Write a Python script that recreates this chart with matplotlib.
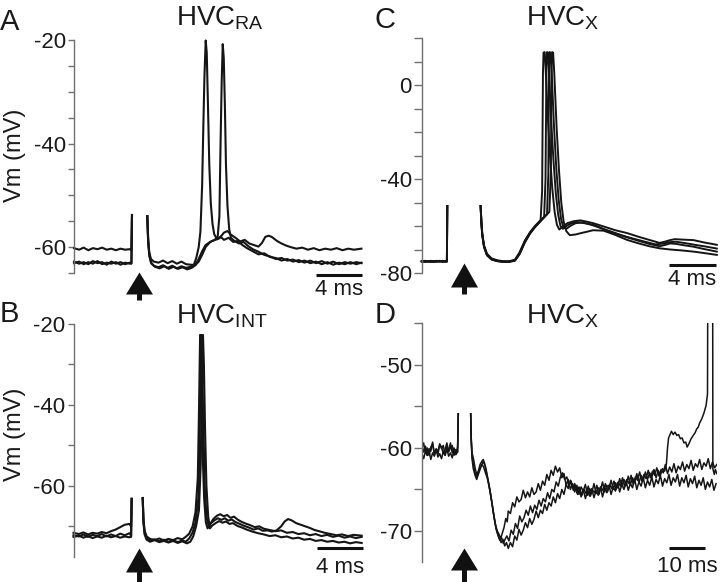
import numpy as np
import matplotlib.pyplot as plt
from matplotlib.transforms import blended_transform_factory

plt.rcParams['font.family'] = ['Liberation Sans', 'DejaVu Sans']
plt.rcParams['mathtext.fontset'] = 'custom'
plt.rcParams['mathtext.rm'] = 'Liberation Sans'
plt.rcParams['axes.unicode_minus'] = False

nan = np.nan

# ---- Panel A: HVC_RA, time (ms) from stimulus, Vm (mV)
A1 = [(-5.04, -60.2), (-4.6, -60.5), (-4.2, -60.1), (-3.8, -60.6), (-3.4, -60.2), (-3.0, -60.4), (-2.6, -60.1),
      (-2.2, -60.5), (-1.8, -60.3), (-1.4, -60.6), (-1.0, -60.3), (-0.6, -60.5), (-0.2, -60.4), (-0.05, -60.6),
      (0.0, -53.8), (0.05, nan),
      (1.33, -54.0), (1.4, -58.5), (1.5, -61.0), (1.65, -62.3), (1.9, -62.8), (2.3, -63.0), (2.7, -62.6), (3.1, -63.1),
      (3.5, -62.7), (3.9, -63.2), (4.3, -62.8), (4.7, -63.3), (5.1, -63.4), (5.5, -63.5), (5.8, -62.8), (6.1, -61.5),
      (6.4, -60.0), (6.8, -59.0), (7.2, -58.6), (7.6, -58.3), (8.0, -57.2), (8.3, -56.9), (8.6, -57.6), (9.0, -58.2),
      (9.4, -58.9), (9.8, -58.6), (10.2, -59.3), (10.6, -59.6), (11.0, -59.9), (11.3, -59.2), (11.6, -58.0),
      (11.9, -57.8), (12.2, -58.1), (12.6, -58.8), (13.0, -59.3), (13.4, -59.7), (13.8, -60.0), (14.3, -60.3),
      (14.8, -60.1), (15.3, -60.5), (15.8, -60.2), (16.3, -60.6), (16.8, -60.3), (17.3, -60.5), (17.8, -60.2),
      (18.3, -60.6), (18.8, -60.3), (19.3, -60.5), (19.95, -60.3)]
A2 = [(-5.04, -62.8), (-4.6, -63.2), (-4.2, -62.9), (-3.8, -63.3), (-3.4, -62.7), (-3.0, -63.1), (-2.6, -62.9),
      (-2.2, -63.4), (-1.8, -62.8), (-1.4, -63.2), (-1.0, -62.9), (-0.6, -63.3), (-0.2, -63.0), (-0.05, -63.2),
      (0.0, -53.8), (0.05, nan),
      (1.33, -54.0), (1.4, -58.8), (1.5, -61.5), (1.65, -63.0), (1.9, -63.6), (2.3, -63.9), (2.7, -63.5), (3.1, -64.0),
      (3.5, -63.6), (3.9, -64.1), (4.3, -63.7), (4.7, -64.0), (5.1, -63.8), (5.4, -63.3), (5.6, -62.0), (5.8, -60.0),
      (5.95, -57.0), (6.1, -48.0), (6.2, -37.0), (6.3, -27.0), (6.41, -20.1), (6.5, -22.5), (6.6, -32.0),
      (6.72, -44.0), (6.85, -51.5), (7.0, -55.5), (7.15, -57.5), (7.4, -58.5), (7.7, -58.0), (8.0, -58.6),
      (8.4, -58.2), (8.8, -59.0), (9.2, -58.8), (9.6, -59.6), (10.0, -60.2), (10.5, -60.8), (11.0, -61.4),
      (11.5, -61.2), (12.0, -61.9), (12.5, -62.1), (13.0, -62.6), (13.5, -62.3), (14.0, -62.8), (14.5, -62.5),
      (15.0, -63.0), (15.5, -62.6), (16.0, -63.1), (16.5, -62.7), (17.0, -63.2), (17.5, -62.8), (18.0, -63.3),
      (18.5, -62.9), (19.0, -63.2), (19.5, -62.9), (19.95, -63.1)]
A3 = [(-5.04, -63.1), (-4.6, -62.8), (-4.2, -63.3), (-3.8, -62.9), (-3.4, -63.2), (-3.0, -62.7), (-2.6, -63.3),
      (-2.2, -63.0), (-1.8, -63.2), (-1.4, -62.9), (-1.0, -63.4), (-0.6, -63.0), (-0.2, -63.2), (-0.05, -63.1),
      (0.0, -53.8), (0.05, nan),
      (1.33, -54.0), (1.42, -59.0), (1.52, -61.8), (1.7, -63.2), (2.0, -63.8), (2.4, -64.1), (2.8, -63.7),
      (3.2, -64.2), (3.6, -63.8), (4.0, -64.2), (4.4, -63.9), (4.8, -64.3), (5.2, -64.0), (5.5, -63.5), (5.8, -62.3),
      (6.1, -60.8), (6.4, -59.6), (6.8, -59.0), (7.2, -58.6), (7.45, -58.0), (7.6, -54.0), (7.7, -40.0),
      (7.8, -28.0), (7.89, -20.8), (7.98, -23.5), (8.08, -33.0), (8.17, -44.0), (8.3, -52.0), (8.45, -56.5),
      (8.6, -58.2), (8.9, -58.8), (9.3, -59.3), (9.7, -59.0), (10.1, -59.8), (10.5, -60.4), (11.0, -60.9),
      (11.5, -61.5), (12.0, -61.8), (12.5, -62.3), (13.0, -62.1), (13.5, -62.6), (14.0, -62.4), (14.5, -62.9),
      (15.0, -62.6), (15.5, -63.1), (16.0, -62.8), (16.5, -63.3), (17.0, -62.9), (17.5, -63.4), (18.0, -63.0),
      (18.5, -63.3), (19.0, -62.9), (19.5, -63.3), (19.95, -63.0)]

# ---- Panel B: HVC_INT
B1 = [(-5.06, -71.6), (-4.6, -71.9), (-4.2, -71.5), (-3.8, -72.0), (-3.4, -71.6), (-3.0, -71.8), (-2.6, -71.4),
      (-2.2, -71.7), (-1.8, -71.2), (-1.4, -70.8), (-1.0, -70.2), (-0.6, -69.6), (-0.2, -69.4), (-0.05, -70.0),
      (0.0, -63.2), (0.05, nan),
      (0.96, -63.0), (1.02, -68.0), (1.12, -71.0), (1.3, -72.5), (1.6, -73.1), (2.0, -73.4), (2.4, -73.0),
      (2.8, -73.5), (3.2, -73.1), (3.6, -73.4), (4.0, -72.9), (4.4, -73.2), (4.7, -72.6), (5.0, -71.8), (5.3, -70.0),
      (5.55, -66.5), (5.75, -58.0), (5.85, -42.0), (5.95, -22.7), (6.05, -32.0), (6.15, -50.0), (6.3, -63.0),
      (6.45, -69.0), (6.6, -70.5), (6.8, -69.5), (7.1, -68.2), (7.4, -67.4), (7.7, -67.0), (8.0, -67.5),
      (8.3, -67.2), (8.6, -67.9), (8.9, -67.6), (9.2, -68.3), (9.5, -68.8), (9.9, -69.3), (10.3, -69.7),
      (10.7, -70.2), (11.1, -70.0), (11.5, -70.6), (12.0, -70.9), (12.5, -71.2), (13.0, -71.0), (13.5, -71.6),
      (14.0, -71.4), (14.5, -71.9), (15.0, -71.7), (15.5, -72.2), (16.0, -71.9), (16.5, -72.4), (17.0, -72.1),
      (17.5, -72.6), (18.0, -72.3), (18.5, -72.8), (19.0, -72.5), (19.5, -72.9), (20.0, -72.6)]
B2 = [(-5.06, -72.2), (-4.6, -72.5), (-4.2, -72.0), (-3.8, -72.6), (-3.4, -72.1), (-3.0, -72.4), (-2.6, -71.9),
      (-2.2, -72.5), (-1.8, -72.0), (-1.4, -72.4), (-1.0, -71.8), (-0.6, -72.2), (-0.2, -71.7), (-0.05, -72.3),
      (0.0, -63.2), (0.05, nan),
      (0.96, -63.0), (1.02, -68.5), (1.12, -71.5), (1.3, -72.9), (1.6, -73.5), (2.0, -73.2), (2.4, -73.7),
      (2.8, -73.3), (3.2, -73.8), (3.6, -73.4), (4.0, -73.9), (4.4, -73.5), (4.7, -73.8), (5.0, -73.0), (5.3, -71.5),
      (5.55, -69.0), (5.8, -63.0), (5.9, -50.0), (5.98, -35.0), (6.05, -22.7), (6.13, -30.0), (6.23, -45.0),
      (6.35, -60.0), (6.5, -67.5), (6.7, -70.0), (6.9, -69.2), (7.2, -68.5), (7.5, -68.0), (7.8, -68.4),
      (8.1, -68.0), (8.4, -68.6), (8.7, -68.3), (9.0, -68.9), (9.4, -69.4), (9.8, -69.9), (10.2, -70.3),
      (10.6, -70.8), (11.0, -70.5), (11.4, -71.1), (11.8, -71.0), (12.2, -71.3), (12.6, -71.0), (13.0, -70.0),
      (13.3, -68.8), (13.6, -68.2), (13.9, -68.5), (14.3, -69.2), (14.7, -69.6), (15.1, -70.0), (15.5, -70.4),
      (15.9, -70.9), (16.3, -71.2), (16.8, -71.6), (17.3, -71.9), (17.8, -72.2), (18.3, -72.0), (18.8, -72.4),
      (19.3, -72.1), (20.0, -72.3)]
B3 = [(-5.06, -72.6), (-4.6, -72.3), (-4.2, -72.8), (-3.8, -72.4), (-3.4, -72.9), (-3.0, -72.5), (-2.6, -72.8),
      (-2.2, -72.3), (-1.8, -72.7), (-1.4, -72.4), (-1.0, -72.8), (-0.6, -72.5), (-0.2, -72.7), (-0.05, -72.6),
      (0.0, -63.2), (0.05, nan),
      (0.96, -63.0), (1.02, -69.0), (1.12, -72.0), (1.3, -73.3), (1.6, -73.8), (2.0, -73.4), (2.4, -73.9),
      (2.8, -73.6), (3.2, -74.0), (3.6, -73.6), (4.0, -74.1), (4.4, -73.7), (4.8, -74.2), (5.1, -73.8),
      (5.35, -72.5), (5.6, -70.0), (5.85, -66.0), (6.0, -55.0), (6.1, -38.0), (6.2, -22.7), (6.28, -30.0),
      (6.38, -46.0), (6.5, -60.0), (6.65, -67.5), (6.8, -70.5), (7.0, -69.8), (7.3, -69.2), (7.6, -68.7),
      (7.9, -69.1), (8.2, -68.8), (8.5, -69.4), (8.8, -69.2), (9.2, -69.9), (9.6, -70.3), (10.0, -70.8),
      (10.5, -71.3), (11.0, -71.7), (11.5, -72.0), (12.0, -72.4), (12.5, -72.2), (13.0, -72.7), (13.5, -72.5),
      (14.0, -73.0), (14.5, -72.8), (15.0, -73.3), (15.5, -73.1), (16.0, -73.6), (16.5, -73.4), (17.0, -73.8),
      (17.5, -73.6), (18.0, -74.0), (18.5, -73.8), (19.0, -74.2), (19.5, -73.9), (20.0, -74.1)]

# ---- Panel C: HVC_X
C1 = [(-2.19, -75.1), (-1.9, -74.8), (-1.65, -75.2), (-1.4, -74.9), (-1.15, -75.2), (-0.9, -74.8), (-0.65, -75.1),
      (-0.4, -74.9), (-0.15, -75.2), (-0.03, -75.0), (0.0, -51.5), (0.05, nan),
      (2.86, -51.5), (2.92, -58.0), (3.0, -63.5), (3.15, -68.5), (3.4, -72.0), (3.8, -74.0), (4.3, -74.8),
      (4.8, -75.1), (5.3, -75.2), (5.8, -74.6), (6.2, -71.8), (6.65, -66.8), (7.1, -63.0), (7.5, -60.5),
      (7.9, -58.4), (8.0, -57.5), (8.13, -45.0), (8.2, 5.0), (8.25, 13.8), (8.35, 14.0), (8.42, 8.0),
      (8.6, -12.0), (8.8, -30.0), (9.0, -44.0), (9.2, -54.0), (9.4, -59.5), (9.6, -61.5), (9.9, -60.2),
      (10.3, -58.8), (10.8, -58.0), (11.4, -57.6), (12.0, -58.2), (12.5, -58.8), (13.4, -60.2), (14.4, -61.8),
      (15.4, -63.0), (16.4, -64.6), (17.3, -65.9), (18.2, -67.2), (18.7, -66.6), (19.1, -66.0), (19.5, -65.6),
      (20.2, -65.8), (21.1, -66.0), (22.0, -67.0), (23.1, -68.0)]
C2 = [(-2.19, -74.9), (-1.9, -75.2), (-1.65, -74.9), (-1.4, -75.3), (-1.15, -74.9), (-0.9, -75.1), (-0.65, -74.8),
      (-0.4, -75.2), (-0.15, -74.9), (-0.03, -75.1), (0.0, -51.5), (0.05, nan),
      (2.86, -51.5), (2.92, -58.2), (3.0, -63.8), (3.15, -68.8), (3.4, -72.3), (3.8, -74.2), (4.3, -74.9),
      (4.8, -75.2), (5.3, -75.1), (5.8, -74.5), (6.2, -71.5), (6.65, -66.5), (7.1, -62.8), (7.5, -60.3),
      (7.9, -58.2), (8.3, -56.2), (8.42, -40.0), (8.5, 8.0), (8.55, 14.0), (8.63, 13.8), (8.72, 5.0),
      (8.9, -15.0), (9.1, -32.0), (9.3, -46.0), (9.5, -55.0), (9.7, -60.0), (9.9, -61.2), (10.2, -60.0),
      (10.6, -58.9), (11.1, -58.3), (11.9, -58.9), (12.7, -59.8), (13.4, -61.3), (14.4, -63.0), (15.4, -64.8),
      (16.4, -66.3), (17.3, -67.6), (18.2, -68.6), (18.7, -68.0), (19.1, -67.4), (19.6, -67.6), (20.3, -68.2),
      (21.1, -68.8), (22.0, -69.8), (23.1, -70.9)]
C3 = [(-2.19, -75.0), (-1.9, -75.3), (-1.65, -75.0), (-1.4, -74.8), (-1.15, -75.3), (-0.9, -75.0), (-0.65, -75.2),
      (-0.4, -74.8), (-0.15, -75.1), (-0.03, -74.9), (0.0, -51.5), (0.05, nan),
      (2.86, -51.5), (2.92, -57.8), (3.0, -63.2), (3.15, -68.2), (3.4, -71.8), (3.8, -73.8), (4.3, -74.6),
      (4.8, -75.0), (5.3, -75.0), (5.8, -74.4), (6.2, -71.2), (6.65, -66.2), (7.1, -62.6), (7.5, -60.1),
      (7.9, -58.0), (8.55, -55.0), (8.66, -38.0), (8.72, 8.0), (8.77, 14.0), (8.85, 13.8), (8.95, 5.0),
      (9.15, -18.0), (9.35, -36.0), (9.55, -49.0), (9.75, -57.0), (9.95, -60.5), (10.2, -61.2), (10.6, -59.8),
      (11.0, -58.8), (11.6, -58.5), (12.3, -59.4), (13.0, -60.6), (13.8, -62.2), (14.8, -63.8), (15.8, -65.2),
      (16.8, -66.5), (17.8, -67.8), (18.5, -67.5), (19.0, -66.9), (19.6, -66.7), (20.4, -67.3), (21.2, -68.0),
      (22.1, -68.7), (23.1, -69.6)]
C4 = [(-2.19, -75.2), (-1.9, -74.9), (-1.65, -75.1), (-1.4, -75.3), (-1.15, -75.0), (-0.9, -75.2), (-0.65, -74.9),
      (-0.4, -75.3), (-0.15, -75.0), (-0.03, -75.2), (0.0, -51.5), (0.05, nan),
      (2.86, -51.5), (2.92, -58.4), (3.0, -64.0), (3.15, -69.0), (3.4, -72.5), (3.8, -74.3), (4.3, -75.0),
      (4.8, -75.3), (5.3, -75.3), (5.8, -74.8), (6.2, -72.0), (6.65, -67.0), (7.1, -63.2), (7.5, -60.6),
      (7.9, -58.5), (8.75, -54.0), (8.88, -36.0), (8.94, 8.0), (8.99, 14.0), (9.07, 13.8), (9.17, 5.0),
      (9.37, -18.0), (9.57, -36.0), (9.77, -50.0), (9.97, -58.0), (10.2, -62.2), (10.5, -63.9), (11.0, -63.6),
      (11.4, -63.1), (12.0, -62.4), (12.5, -61.8), (13.4, -62.0), (14.4, -63.8), (15.4, -65.9), (16.4, -67.4),
      (17.3, -68.6), (18.2, -69.5), (19.1, -70.0), (20.1, -70.4), (21.1, -70.9), (22.0, -71.5), (23.1, -72.3)]

# ---- Panel D: HVC_X, longer sweep
D1 = [(-10.25, -59.6), (-9.7, -60.5), (-9.2, -59.8), (-8.7, -60.9), (-8.2, -60.1), (-7.7, -60.4), (-7.2, -59.3),
      (-6.7, -60.7), (-6.2, -60.2), (-5.7, -60.8), (-5.2, -59.5), (-4.7, -60.1), (-4.2, -59.7), (-3.7, -60.9),
      (-3.2, -59.9), (-2.7, -60.3), (-2.2, -59.4), (-1.7, -60.6), (-1.2, -60.0), (-0.7, -60.8), (-0.2, -59.9),
      (0.0, -55.9), (0.05, nan),
      (3.47, -55.9), (3.6, -58.6), (3.85, -60.6), (4.2, -61.2), (4.7, -62.4), (5.15, -63.2), (5.6, -62.8),
      (6.1, -62.0), (6.6, -61.6), (7.0, -61.4), (7.4, -61.9), (7.8, -62.6), (8.3, -63.8), (8.8, -65.0),
      (9.35, -66.4), (9.9, -68.0), (10.4, -69.2), (10.9, -70.0), (11.4, -70.4), (11.9, -70.9), (12.3, -70.3),
      (12.8, -69.6), (13.3, -68.5), (13.7, -68.9),
      (14.0, -67.6), (14.6, -67.9), (15.2, -66.6), (15.8, -67.1), (16.4, -65.9), (17.0, -66.5), (17.6, -66.2),
      (18.2, -65.1), (18.8, -66.0), (19.4, -65.3), (20.0, -65.9), (20.6, -64.8), (21.2, -65.6), (21.8, -65.3),
      (22.4, -64.3), (23.0, -65.1), (23.6, -64.0), (24.2, -64.5), (24.8, -63.2), (25.4, -63.9), (26.0, -62.7),
      (26.6, -63.3), (27.2, -62.2), (27.8, -62.9), (28.4, -62.4), (29.0, -63.6), (29.6, -63.1), (30.2, -64.5),
      (30.8, -63.8), (31.4, -65.0), (32.0, -64.3), (32.6, -65.3), (33.2, -64.5), (33.8, -65.6), (34.4, -64.7),
      (35.0, -65.2), (35.6, -64.4), (36.2, -65.7), (36.8, -64.9), (37.4, -65.4), (38.0, -64.3), (38.6, -65.5),
      (39.2, -64.8), (39.8, -65.1), (40.4, -64.1), (41.0, -65.3), (41.6, -64.5), (42.2, -64.9), (42.8, -63.9),
      (43.4, -65.0), (44.0, -64.2), (44.6, -64.8), (45.2, -63.7), (45.8, -64.6), (46.4, -63.8), (47.0, -64.5),
      (47.6, -63.4), (48.2, -64.4), (48.8, -63.6), (49.4, -64.1), (50.0, -63.1), (50.6, -64.2), (51.2, -63.3),
      (51.8, -63.9), (52.4, -62.9), (53.0, -63.8), (53.6, -63.0), (54.2, -63.5), (54.8, -62.6), (55.4, -63.6),
      (56.0, -62.7), (56.6, -63.3), (57.2, -62.5), (57.8, -62.8),
      (58.3, -61.9), (58.6, -60.0), (58.9, -58.8), (59.3, -58.4), (59.7, -58.0), (60.2, -58.4),
      (60.7, -58.1), (61.2, -58.5), (61.7, -58.4), (62.2, -58.9), (62.7, -58.8), (63.2, -59.4), (63.7, -59.3),
      (64.1, -59.9), (64.6, -59.5), (65.2, -58.9), (65.8, -58.5), (66.3, -58.2), (66.8, -57.7), (67.2, -57.5),
      (67.6, -57.0), (68.2, -56.5), (68.8, -55.8), (69.4, -54.9), (69.8, -53.5), (70.0, -20.0), (71.2, -20.0),
      (71.3, -62.5), (71.7, -63.2), (72.0, -62.6), (72.4, -63.1)]
D2 = [(-10.25, -60.6), (-9.7, -61.3), (-9.2, -60.4), (-8.7, -60.9), (-8.2, -60.3), (-7.7, -61.4), (-7.2, -60.6),
      (-6.7, -61.0), (-6.2, -60.2), (-5.7, -61.1), (-5.2, -60.7), (-4.7, -61.3), (-4.2, -60.4), (-3.7, -60.9),
      (-3.2, -60.1), (-2.7, -61.0), (-2.2, -60.6), (-1.7, -61.2), (-1.2, -60.2), (-0.7, -60.8), (-0.2, -60.5),
      (0.0, -55.9), (0.05, nan),
      (3.47, -55.9), (3.6, -58.8), (3.85, -61.0), (4.2, -62.0), (4.7, -63.0), (5.15, -63.6), (5.6, -63.0),
      (6.1, -62.3), (6.6, -62.0), (7.1, -62.3), (7.6, -63.0), (8.1, -63.6), (8.6, -64.6), (9.1, -65.8),
      (9.6, -67.2), (10.1, -68.6), (10.6, -69.8), (11.1, -70.5), (11.6, -71.1), (12.1, -70.8), (12.6, -71.5),
      (13.1, -71.0),
      (13.6, -70.6), (14.2, -71.2), (14.8, -69.9), (15.4, -70.4), (16.0, -69.1), (16.6, -69.7), (17.2, -68.2),
      (17.8, -68.9), (18.4, -68.4), (19.0, -67.5), (19.6, -68.1), (20.2, -67.0), (20.8, -67.8), (21.4, -66.9),
      (22.0, -67.4), (22.6, -66.3), (23.2, -67.0), (23.8, -66.1), (24.4, -66.5), (25.0, -65.4), (25.6, -66.1),
      (26.2, -65.0), (26.8, -65.3), (27.4, -64.1), (28.0, -64.6), (28.6, -63.5), (29.2, -63.0), (29.8, -63.8),
      (30.4, -63.5), (31.0, -64.6), (31.6, -64.0), (32.2, -65.1), (32.8, -64.5), (33.4, -65.6), (34.0, -64.8),
      (34.6, -65.7), (35.2, -65.0), (35.8, -65.5), (36.4, -64.6), (37.0, -65.8), (37.6, -65.1), (38.2, -65.4),
      (38.8, -64.5), (39.4, -65.6), (40.0, -64.7), (40.6, -65.2), (41.2, -64.3), (41.8, -65.3), (42.4, -64.4),
      (43.0, -64.9), (43.6, -64.0), (44.2, -65.0), (44.8, -64.1), (45.4, -64.6), (46.0, -63.6), (46.6, -64.7),
      (47.2, -63.8), (47.8, -64.3), (48.4, -63.3), (49.0, -64.4), (49.6, -63.5), (50.2, -63.9), (50.8, -62.9),
      (51.4, -64.0), (52.0, -63.2), (52.6, -63.7), (53.2, -62.7), (53.8, -63.6), (54.4, -62.8), (55.0, -63.3),
      (55.6, -62.4), (56.2, -63.4), (56.8, -62.6), (57.4, -63.0), (58.0, -62.0), (58.6, -63.1), (59.2, -62.3),
      (59.8, -62.9), (60.4, -61.9), (61.0, -63.0), (61.6, -62.2), (62.2, -62.6), (62.8, -61.7), (63.4, -62.8),
      (64.0, -62.0), (64.6, -62.5), (65.2, -61.5), (65.8, -62.7), (66.4, -61.9), (67.0, -62.3), (67.6, -61.4),
      (68.2, -62.6), (68.8, -61.8), (69.4, -62.2), (70.0, -61.3), (70.6, -62.5), (71.2, -61.7), (71.8, -62.4),
      (72.4, -62.0)]
D3 = [(-10.25, -60.1), (-9.7, -59.4), (-9.2, -60.6), (-8.7, -60.0), (-8.2, -60.9), (-7.7, -59.9), (-7.2, -59.5),
      (-6.7, -60.8), (-6.2, -60.1), (-5.7, -60.4), (-5.2, -59.6), (-4.7, -59.9), (-4.2, -60.7), (-3.7, -60.2),
      (-3.2, -59.4), (-2.7, -60.5), (-2.2, -60.0), (-1.7, -59.7), (-1.2, -60.9), (-0.7, -60.2), (-0.2, -60.5),
      (0.0, -55.9), (0.05, nan),
      (3.47, -55.9), (3.6, -59.0), (3.85, -61.3), (4.2, -62.5), (4.7, -63.3), (5.15, -63.8), (5.6, -63.2),
      (6.1, -62.6), (6.6, -62.0), (7.0, -61.6), (7.5, -62.2), (8.0, -63.2), (8.5, -64.2), (9.0, -65.4),
      (9.5, -66.8), (10.0, -68.2), (10.5, -69.5), (11.0, -70.3), (11.5, -70.9), (12.0, -71.4), (12.5, -71.0),
      (13.0, -71.8), (13.5, -71.4), (14.0, -72.1),
      (14.6, -71.4), (15.2, -71.9), (15.8, -70.6), (16.4, -71.1), (17.0, -69.8), (17.6, -70.5), (18.2, -69.9),
      (18.8, -69.0), (19.4, -69.6), (20.0, -68.5), (20.6, -69.2), (21.2, -68.6), (21.8, -67.6), (22.4, -68.4),
      (23.0, -67.5), (23.6, -67.9), (24.2, -66.8), (24.8, -67.5), (25.4, -66.6), (26.0, -67.0), (26.6, -65.9),
      (27.2, -66.6), (27.8, -65.5), (28.4, -66.1), (29.0, -65.0), (29.6, -65.6), (30.2, -64.4), (30.8, -64.9),
      (31.4, -63.9), (32.0, -64.8), (32.6, -64.3), (33.2, -65.4), (33.8, -64.7), (34.4, -65.9), (35.0, -65.0),
      (35.6, -66.1), (36.2, -65.2), (36.8, -65.8), (37.4, -64.9), (38.0, -66.0), (38.6, -65.1), (39.2, -65.7),
      (39.8, -64.7), (40.4, -65.9), (41.0, -64.9), (41.6, -65.4), (42.2, -64.5), (42.8, -65.6), (43.4, -64.7),
      (44.0, -65.2), (44.6, -64.2), (45.2, -65.3), (45.8, -64.4), (46.4, -65.0), (47.0, -64.0), (47.6, -65.1),
      (48.2, -64.3), (48.8, -64.8), (49.4, -63.8), (50.0, -65.0), (50.6, -64.1), (51.2, -64.6), (51.8, -63.6),
      (52.4, -64.8), (53.0, -63.9), (53.6, -64.5), (54.2, -63.5), (54.8, -64.7), (55.4, -63.8), (56.0, -64.3),
      (56.6, -63.3), (57.2, -64.6), (57.8, -63.7), (58.4, -64.2), (59.0, -63.2), (59.6, -64.5), (60.2, -63.6),
      (60.8, -64.1), (61.4, -63.2), (62.0, -64.6), (62.6, -63.6), (63.2, -64.2), (63.8, -63.3), (64.4, -64.7),
      (65.0, -63.7), (65.6, -64.3), (66.2, -63.4), (66.8, -64.8), (67.4, -63.9), (68.0, -64.5), (68.6, -63.6),
      (69.2, -65.0), (69.8, -64.1), (70.4, -64.7), (71.0, -63.8), (71.6, -65.1), (72.2, -64.3)]

titles = [r'HVC$_\mathregular{RA}$', r'HVC$_\mathregular{INT}$', r'HVC$_\mathregular{X}$', r'HVC$_\mathregular{X}$']
letters = ['A', 'B', 'C', 'D']
scale_labels = ['4 ms', '4 ms', '4 ms', '10 ms']
scale_len = [4, 4, 4, 10]

W, H = 720, 582
fig = plt.figure(figsize=(W / 100, H / 100), dpi=100)


def fy(px):
    return 1 - px / H


def make_axes(left, top, right, bottom):
    return fig.add_axes([left / W, fy(bottom), (right - left) / W, (bottom - top) / H])


def panel(box, traces, xlim, ylim, major, minor, ticklen, clip, lw):
    ax = make_axes(*box)
    for tr in traces:
        t, v = np.array(tr).T
        ax.plot(t, v, color='#151515', lw=lw, clip_on=clip, solid_joinstyle='round')
    ax.set_xlim(xlim)
    ax.set_ylim(ylim)
    for s in ('top', 'right', 'bottom'):
        ax.spines[s].set_visible(False)
    ax.spines['left'].set_color('#707070')
    ax.spines['left'].set_linewidth(1.0)
    ax.set_xticks([])
    ax.set_yticks(major)
    ax.set_yticks(minor, minor=True)
    ax.tick_params(axis='y', which='both', length=ticklen, width=1.0, color='#707070',
                   labelsize=16, pad=1.5, labelcolor='#1a1a1a')
    ax.patch.set_alpha(0)
    return ax


def stim_arrow(ax, t, tip, base, stem_end, width):
    tr = blended_transform_factory(ax.transData, fig.transFigure)
    r = (base - tip) / width
    ax.plot([t], [fy((tip + base) / 2)], transform=tr, clip_on=False, ls='none',
            marker=[(0, r), (-1, -r), (1, -r), (0, r)], ms=width * 0.72, color='#111111', mew=0)
    ax.plot([t, t], [fy(base - 1), fy(stem_end)], transform=tr, clip_on=False,
            color='#111111', lw=3.6, solid_capstyle='butt')


def scale_bar(ax, t0, length, label, y_bar, y_text):
    tr = blended_transform_factory(ax.transData, fig.transFigure)
    ax.plot([t0, t0 + length], [fy(y_bar), fy(y_bar)], transform=tr, clip_on=False,
            color='#111111', lw=2.2, solid_capstyle='butt')
    ax.text(t0 + length / 2, fy(y_text), label, transform=tr, ha='center', va='baseline',
            fontsize=16, color='#1a1a1a')


axA = panel((74, 40, 362, 273), [A1, A2, A3], (-5.043, 20.0), (-65, -20),
            [-60, -40, -20], [-65, -55, -50, -45, -35, -30, -25], 4.3, False, 1.5)
axB = panel((73.5, 324, 362, 556.7), [B1, B2, B3], (-5.06, 20.03), (-77.5, -20),
            [-60, -40, -20], [-70, -50, -30], 4.3, False, 1.5)
axC = panel((421.7, 38, 718, 273), [C1, C2, C3, C4], (-2.19, 23.2), (-80, 20),
            [-80, -40, 0], [-70, -60, -50, -30, -20, -10, 10, 20], 5.5, False, 1.4)
axD = panel((421.7, 323.3, 717, 561.7), [D1, D2, D3], (-10.25, 72.46), (-73.7, -45),
            [-70, -60, -50], [-65, -55, -45], 5.5, True, 1.1)

stim_arrow(axA, 0.63, 272, 294, 300, 27)
stim_arrow(axB, 0.63, 548, 572, 582, 27)
stim_arrow(axC, 1.45, 263, 287, 294, 27)
stim_arrow(axD, 1.7, 548, 570, 582, 27)

scale_bar(axA, 16.0, scale_len[0], scale_labels[0], 275, 295)
scale_bar(axB, 16.1, scale_len[1], scale_labels[1], 548, 573)
scale_bar(axC, 19.0, scale_len[2], scale_labels[2], 265.5, 285)
scale_bar(axD, 59.1, scale_len[3], scale_labels[3], 548, 572)

title_pos = [(220, 25), (222, 323), (563, 25), (563, 323)]
letter_pos = [(0, 30), (0, 322), (374, 28), (375, 323)]
for (x, y), s in zip(title_pos, titles):
    fig.text(x / W, fy(y), s, ha='center', va='baseline', fontsize=20, color='#1a1a1a')
for (x, y), s in zip(letter_pos, letters):
    fig.text(x / W, fy(y), s, ha='left', va='baseline', fontsize=21, color='#1a1a1a')

for yc in (155, 434):
    fig.text(15 / W, fy(yc), 'Vm (mV)', rotation=90, ha='center', va='center',
             fontsize=17, color='#1a1a1a')

fig.savefig('out.png', dpi=100)
